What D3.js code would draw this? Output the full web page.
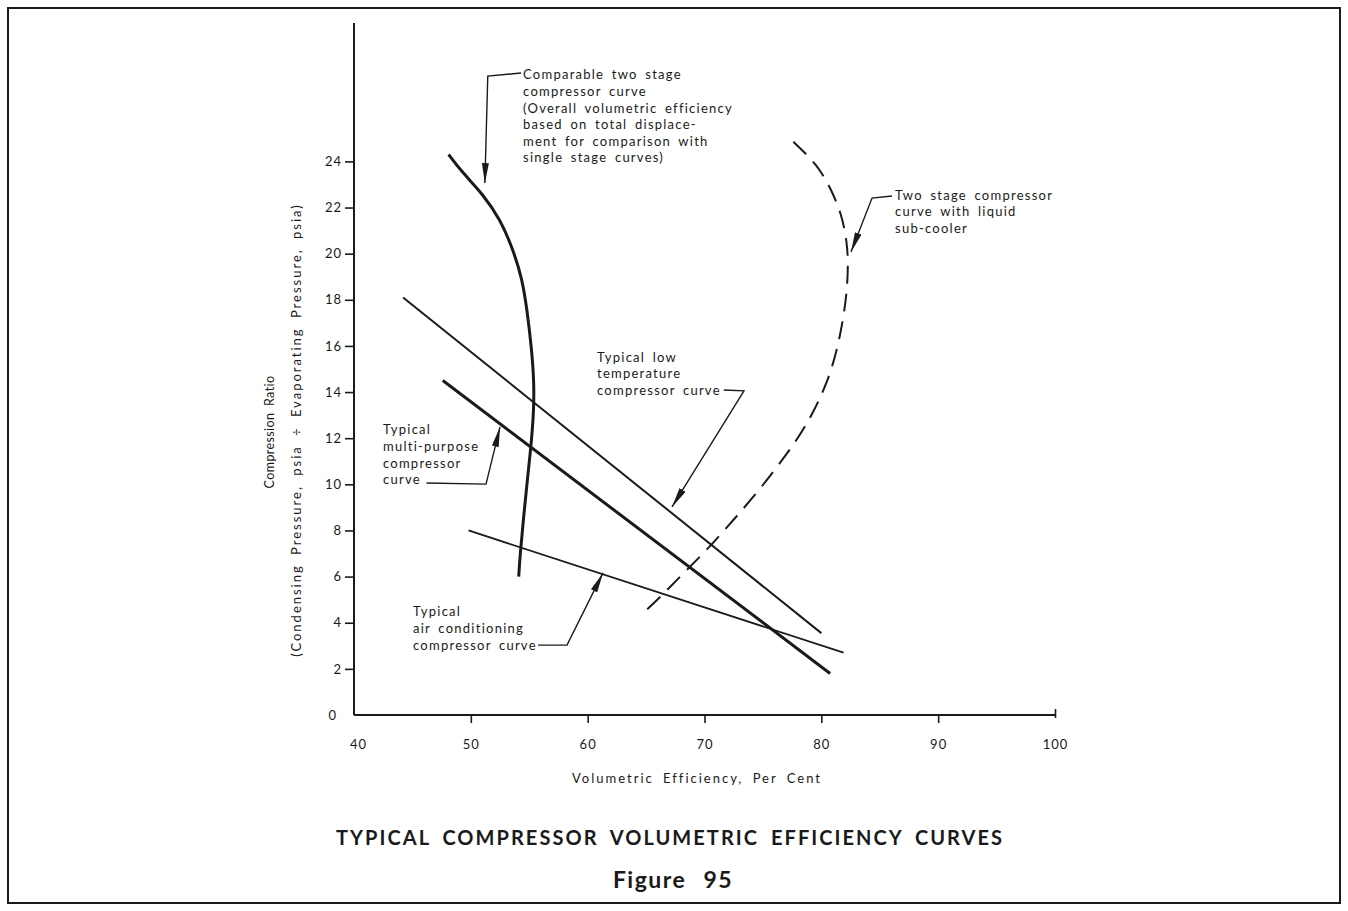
<!DOCTYPE html>
<html>
<head>
<meta charset="utf-8">
<script src="https://cdn.jsdelivr.net/npm/d3@7"></script>
<style>
  body { margin: 0; background: #fff; }
  text { font-family: Lato, "Open Sans", sans-serif; fill: #1a1a1a; }
</style>
</head>
<body>
<div class="vis-chart"></div>
<script>
// values (x = volumetric efficiency %, y = compression ratio)
const xTicks = [40, 50, 60, 70, 80, 90, 100];
const yTicks = [0, 2, 4, 6, 8, 10, 12, 14, 16, 18, 20, 22, 24];

const lowTemp = [[44.2, 18.1], [80.0, 3.55]];
const multiPurpose = [[47.6, 14.5], [80.75, 1.8]];
const airCond = [[49.8, 8.0], [81.9, 2.7]];
const twoStage = [[48.1, 24.3], [49.3, 23.5], [51.0, 22.6], [52.5, 21.5], [53.6, 20.2], [54.4, 18.9],
  [54.8, 17.6], [55.2, 15.9], [55.4, 14.5], [55.4, 13.35], [55.2, 11.9], [54.9, 10.5],
  [54.55, 8.75], [54.2, 6.85], [54.1, 6.0]];
const subCooler = [[77.6, 24.85], [79.6, 23.9], [80.9, 22.75], [81.8, 21.6], [82.2, 20.45], [82.3, 19.6],
  [82.2, 18.4], [81.9, 17.25], [81.35, 15.8], [80.5, 14.4], [79.3, 13.1], [77.9, 11.9],
  [76.2, 10.75], [74.2, 9.45], [72.2, 8.3], [70.2, 7.15], [67.9, 6.0], [66.2, 5.1], [64.7, 4.4]];

// callouts: text lines, text anchor, leader path ending at the arrow tip
const noteTwoStage = ["Comparable two stage", "compressor curve", "(Overall volumetric efficiency",
  "based on total displace-", "ment for comparison with", "single stage curves)"];
const noteSubCooler = ["Two stage compressor", "curve with liquid", "sub-cooler"];
const noteLowTemp = ["Typical low", "temperature", "compressor curve"];
const noteMulti = ["Typical", "multi-purpose", "compressor", "curve"];
const noteAir = ["Typical", "air conditioning", "compressor curve"];

const notes = [
  { lines: noteTwoStage, at: [54.47, 27.75], leader: [[54.3, 27.83], [51.45, 27.7], [51.2, 23.06]] },
  { lines: noteSubCooler, at: [86.31, 22.54], leader: [[86.05, 22.5], [84.34, 22.41], [82.54, 20.07]] },
  { lines: noteLowTemp, at: [60.8, 15.52], leader: [[71.65, 14.09], [73.38, 14.05], [67.22, 9.02]] },
  { lines: noteMulti, at: [42.48, 12.36], leader: [[46.2, 10.06], [51.3, 10.01], [52.5, 12.49]] },
  { lines: noteAir, at: [45.05, 4.47], leader: [[55.75, 3.03], [58.23, 3.03], [61.31, 6.16]] }
];

const W = 1348, H = 911;
const svg = d3.select('.vis-chart').append('svg')
  .attr('width', W).attr('height', H);

// page frame
svg.append('rect')
  .attr('x', 8).attr('y', 8).attr('width', 1332).attr('height', 895)
  .attr('fill', 'none').attr('stroke', '#1a1a1a').attr('stroke-width', 2);

const x = d3.scaleLinear().domain([40, 100]).range([354, 1055]);
const y = d3.scaleLinear().domain([0, 30]).range([715, 23]);

const ink = '#1a1a1a';

// axes
const xAxis = svg.append('g').attr('transform', 'translate(0,715)')
  .call(d3.axisBottom(x).tickValues(xTicks).tickSize(8).tickPadding(17).tickSizeOuter(0));
const yAxis = svg.append('g').attr('transform', 'translate(354,0)')
  .call(d3.axisLeft(y).tickValues(yTicks).tickSize(9).tickPadding(3).tickSizeOuter(0));
[xAxis, yAxis].forEach(g => {
  g.select('.domain').attr('stroke', ink).attr('stroke-width', 2);
  g.selectAll('.tick line').attr('stroke', ink).attr('stroke-width', 1.6);
  g.selectAll('.tick text').attr('fill', ink).style('font-size', '13px')
    .style('letter-spacing', '1px').style('font-family', 'Lato, sans-serif');
});
xAxis.select('.domain').attr('d', 'M354,0H1055');
yAxis.select('.domain').attr('d', 'M0,715V23');
xAxis.selectAll('.tick').filter(d => d === 40).select('line').remove();
xAxis.selectAll('.tick').filter(d => d === 40).select('text').attr('dx', 4);
xAxis.selectAll('.tick').filter(d => d === 100).select('line').attr('y2', -6).attr('y1', 3);
yAxis.selectAll('.tick').filter(d => d === 0).select('line').remove();
yAxis.selectAll('.tick').filter(d => d === 0).select('text').attr('dx', -5);

// axis titles
svg.append('text').attr('x', 697).attr('y', 783).attr('text-anchor', 'middle')
  .style('font-size', '13px').style('letter-spacing', '2px').style('word-spacing', '4px')
  .text('Volumetric Efficiency, Per Cent');
svg.append('text').attr('transform', 'translate(274,432) rotate(-90)').attr('text-anchor', 'middle')
  .style('font-size', '12.5px').style('letter-spacing', '0.4px').style('word-spacing', '3px')
  .text('Compression Ratio');
svg.append('text').attr('transform', 'translate(301,430) rotate(-90)').attr('text-anchor', 'middle')
  .style('font-size', '13px').style('letter-spacing', '2px').style('word-spacing', '4px')
  .text('(Condensing Pressure, psia \u00F7 Evaporating Pressure, psia)');

// curves
const line = d3.line().x(d => x(d[0])).y(d => y(d[1]));
const smooth = d3.line().x(d => x(d[0])).y(d => y(d[1])).curve(d3.curveBasis);

const curves = [
  { data: lowTemp, gen: line, w: 2 },
  { data: multiPurpose, gen: line, w: 3 },
  { data: airCond, gen: line, w: 1.8 },
  { data: twoStage, gen: smooth, w: 3 },
  { data: subCooler, gen: smooth, w: 2, dash: '18,10' }
];
svg.selectAll('path.curve').data(curves).enter().append('path')
  .attr('class', 'curve')
  .attr('d', d => d.gen(d.data))
  .attr('fill', 'none')
  .attr('stroke', ink)
  .attr('stroke-width', d => d.w)
  .attr('stroke-dasharray', d => d.dash || null);

// arrowhead marker (long, narrow)
svg.append('defs').append('marker')
  .attr('id', 'arrow').attr('viewBox', '0 0 20 7')
  .attr('preserveAspectRatio', 'none')
  .attr('refX', 20).attr('refY', 3.5)
  .attr('markerWidth', 20).attr('markerHeight', 7).attr('markerUnits', 'userSpaceOnUse')
  .attr('orient', 'auto')
  .append('path').attr('d', 'M0,0L20,3.5L0,7Z').attr('fill', ink);

const noteG = svg.selectAll('g.note').data(notes).enter().append('g').attr('class', 'note');
noteG.append('path')
  .attr('d', d => line(d.leader))
  .attr('fill', 'none').attr('stroke', ink).attr('stroke-width', 1.4)
  .attr('marker-end', 'url(#arrow)');
noteG.append('text')
  .attr('x', d => x(d.at[0]))
  .attr('y', d => y(d.at[1]))
  .style('font-size', '13px').style('letter-spacing', '1.25px').style('word-spacing', '3px')
  .selectAll('tspan').data(d => d.lines.map(t => ({ t, x0: x(d.at[0]) }))).enter().append('tspan')
  .attr('x', d => d.x0)
  .attr('dy', (d, i) => i === 0 ? '0.35em' : 16.6)
  .text(d => d.t);

// title block
svg.append('text').attr('x', 670).attr('y', 845).attr('text-anchor', 'middle')
  .style('font-size', '20px').style('font-weight', 'bold').style('letter-spacing', '2.05px')
  .style('word-spacing', '5px')
  .text('TYPICAL COMPRESSOR VOLUMETRIC EFFICIENCY CURVES');
svg.append('text').attr('x', 673).attr('y', 888).attr('text-anchor', 'middle')
  .style('font-size', '23px').style('font-weight', 'bold').style('letter-spacing', '1.5px')
  .style('word-spacing', '10px')
  .text('Figure 95');
</script>
</body>
</html>
